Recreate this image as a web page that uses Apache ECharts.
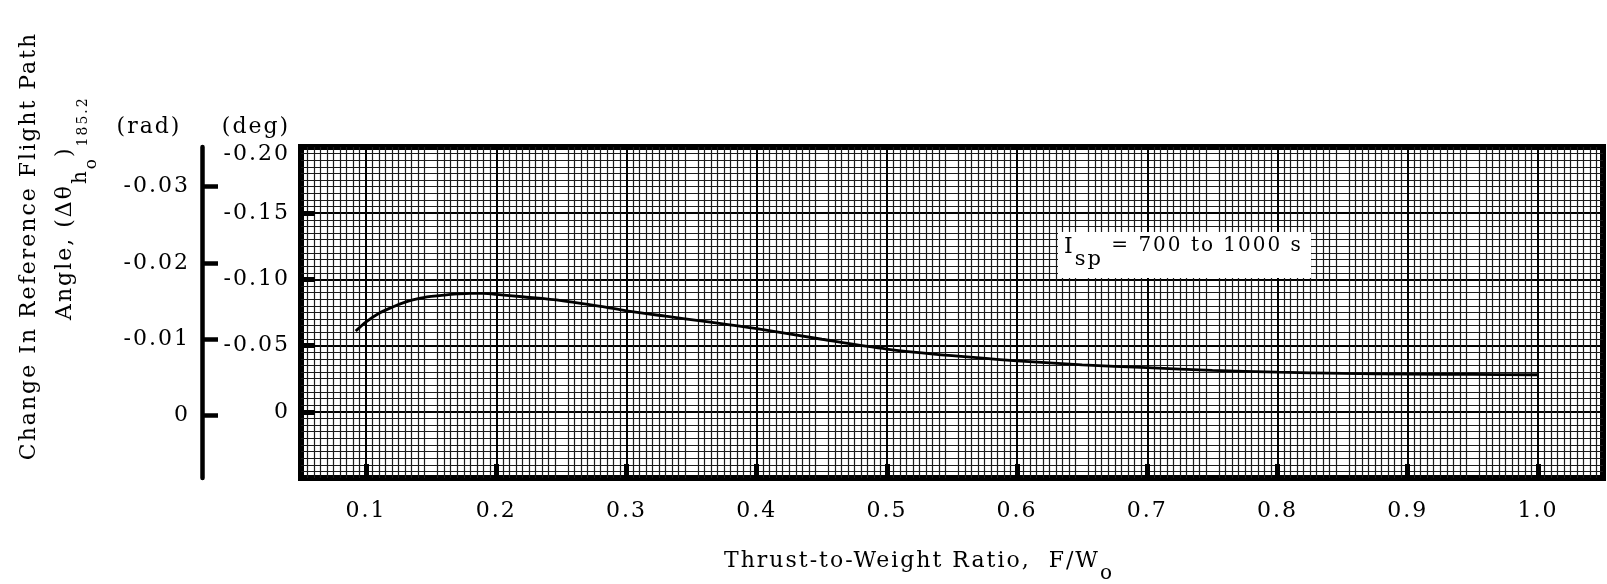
<!DOCTYPE html>
<html>
<head>
<meta charset="utf-8">
<script src="https://cdn.jsdelivr.net/npm/echarts@6/dist/echarts.min.js"></script>
<style>
  html, body { margin: 0; padding: 0; background: #fff; }
  #chart { width: 1607px; height: 584px; }
</style>
</head>
<body>
<div id="chart"></div>
<script>
// ---- data ----
const ratio = [0.092, 0.10, 0.11, 0.12, 0.13, 0.14, 0.15, 0.16, 0.17, 0.18, 0.19, 0.20, 0.22, 0.25, 0.28, 0.30, 0.33, 0.36, 0.40, 0.45, 0.50, 0.55, 0.60, 0.65, 0.70, 0.75, 0.80, 0.85, 0.90, 0.95, 1.00];
const angleDeg = [-0.061, -0.068, -0.0745, -0.079, -0.0828, -0.0855, -0.0871, -0.0882, -0.089, -0.0895, -0.0894, -0.0887, -0.0869, -0.0840, -0.0797, -0.0763, -0.0722, -0.0683, -0.0628, -0.0548, -0.0474, -0.0424, -0.0385, -0.0355, -0.0333, -0.0313, -0.0299, -0.0290, -0.0285, -0.0282, -0.0280];
const xTicks = [0.1, 0.2, 0.3, 0.4, 0.5, 0.6, 0.7, 0.8, 0.9, 1.0];
const degTickLabels = [-0.20, -0.15, -0.10, -0.05, 0];
const degTickMarks = [-0.15, -0.10, -0.05, 0];
const radTicks = [-0.03, -0.02, -0.01, 0];

// typewriter-like letter spacing for all canvas text
(function () {
  const P = CanvasRenderingContext2D.prototype;
  const d = Object.getOwnPropertyDescriptor(P, 'font');
  if (d && ('letterSpacing' in P)) {
    Object.defineProperty(P, 'font', {
      configurable: true,
      get() { return d.get.call(this); },
      set(v) { d.set.call(this, v); try { this.letterSpacing = '2px'; } catch (e) {} }
    });
  }
})();

const FONT = '"DejaVu Serif", "Liberation Serif", serif';
const fmt2 = v => (Math.abs(v) < 1e-9 ? '0' : v.toFixed(2));

const chart = echarts.init(document.getElementById('chart'), null, { renderer: 'canvas' });
chart.setOption({
  animation: false,
  backgroundColor: '#fff',
  grid: {
    left: 301, top: 147, right: 4, bottom: 106,
    show: true, borderColor: '#000', borderWidth: 6, backgroundColor: '#fff'
  },
  xAxis: {
    type: 'value', min: 0.05, max: 1.05, interval: 0.05,
    axisLine: { show: false, onZero: false },
    axisTick: { show: true, inside: true, length: 14, customValues: xTicks, lineStyle: { color: '#000', width: 5 } },
    axisLabel: { customValues: xTicks, formatter: v => v.toFixed(1), margin: 21, fontSize: 22, fontFamily: FONT, color: '#000' },
    splitLine: { show: true, lineStyle: { color: '#000', width: 2 } },
    minorTick: { show: false, splitNumber: 10 },
    minorSplitLine: { show: true, lineStyle: { color: '#1a1a1a', width: 1.2 } }
  },
  yAxis: [
    {
      type: 'value', inverse: true, min: -0.20, max: 0.05, interval: 0.05, position: 'left',
      axisLine: { show: false, onZero: false },
      axisTick: { show: true, inside: true, length: 14, customValues: degTickMarks, lineStyle: { color: '#000', width: 5 } },
      axisLabel: {
        customValues: degTickLabels,
        formatter: v => (v <= -0.199 ? '{t|' + fmt2(v) + '}' : fmt2(v)),
        rich: { t: { padding: [14, 0, 0, 0], fontSize: 22, fontFamily: FONT, color: '#000' } },
        margin: 11, fontSize: 22, fontFamily: FONT, color: '#000'
      },
      splitLine: { show: true, lineStyle: { color: '#000', width: 2 } },
      minorTick: { show: false, splitNumber: 10 },
      minorSplitLine: { show: true, lineStyle: { color: '#1a1a1a', width: 1.2 } }
    },
    {
      type: 'value', inverse: true, min: -0.0352, max: 0.0082, position: 'left', offset: 99,
      axisLine: { show: true, onZero: false, lineStyle: { color: '#000', width: 4.5 } },
      axisTick: { show: true, inside: true, length: 16, customValues: radTicks, lineStyle: { color: '#000', width: 4.5 } },
      axisLabel: { customValues: radTicks, formatter: fmt2, margin: 12, fontSize: 22, fontFamily: FONT, color: '#000' },
      splitLine: { show: false }
    }
  ],
  series: [{
    type: 'line',
    data: ratio.map((x, i) => [x, angleDeg[i]]),
    yAxisIndex: 0,
    smooth: 0.3,
    showSymbol: false,
    lineStyle: { color: '#000', width: 2.8 },
    z: 10
  }],
  graphic: [
    { type: 'text', x: 149, y: 127, z: 100, style: { text: '(rad)', font: '22px ' + FONT, fill: '#000', align: 'center', verticalAlign: 'middle' } },
    { type: 'text', x: 256, y: 127, z: 100, style: { text: '(deg)', font: '22px ' + FONT, fill: '#000', align: 'center', verticalAlign: 'middle' } },
    { type: 'text', x: 29, y: 246, rotation: Math.PI / 2, z: 100,
      style: { text: 'Change In Reference Flight Path', font: '22px ' + FONT, fill: '#000', align: 'center', verticalAlign: 'middle' } },
    { type: 'text', x: 53, y: 320, rotation: Math.PI / 2, z: 100,
      style: {
        text: '{m|Angle, (Δθ}{h|h}{o|o}{m|)}{n|185.2}', align: 'left', verticalAlign: 'top', fill: '#000',
        rich: {
          m: { fontSize: 22, lineHeight: 24, verticalAlign: 'top', fontFamily: FONT, fill: '#000' },
          h: { fontSize: 20, lineHeight: 20, padding: [17, 0, 0, 0], verticalAlign: 'top', fontFamily: FONT, fill: '#000' },
          o: { fontSize: 17, lineHeight: 17, padding: [29, 0, 0, 0], verticalAlign: 'top', fontFamily: FONT, fill: '#000' },
          n: { fontSize: 14, lineHeight: 14, padding: [22, 0, 0, 0], verticalAlign: 'top', fontFamily: FONT, fill: '#000' }
        }
      } },
    { type: 'rect', z: 100, shape: { x: 1058, y: 232, width: 253, height: 46 }, style: { fill: '#fff' } },
    { type: 'text', x: 1064, y: 235, z: 101,
      style: {
        text: '{i|I}{s|sp}{t| = 700 to 1000 s}', align: 'left', verticalAlign: 'top', fill: '#000',
        rich: {
          i: { fontSize: 22, lineHeight: 22, verticalAlign: 'top', fontFamily: FONT, fill: '#000' },
          s: { fontSize: 21, lineHeight: 21, padding: [13, 0, 0, 0], verticalAlign: 'top', fontFamily: FONT, fill: '#000' },
          t: { fontSize: 20, lineHeight: 22, verticalAlign: 'top', fontFamily: FONT, fill: '#000' }
        }
      } },
    { type: 'text', x: 724, y: 549, z: 100,
      style: {
        text: '{m|Thrust-to-Weight Ratio,  F/W}{s|o}', align: 'left', verticalAlign: 'top', fill: '#000',
        rich: {
          m: { fontSize: 22, lineHeight: 24, verticalAlign: 'top', fontFamily: FONT, fill: '#000' },
          s: { fontSize: 20, lineHeight: 18, padding: [14, 0, 0, 0], verticalAlign: 'top', fontFamily: FONT, fill: '#000' }
        }
      } }
  ]
});
</script>
</body>
</html>
